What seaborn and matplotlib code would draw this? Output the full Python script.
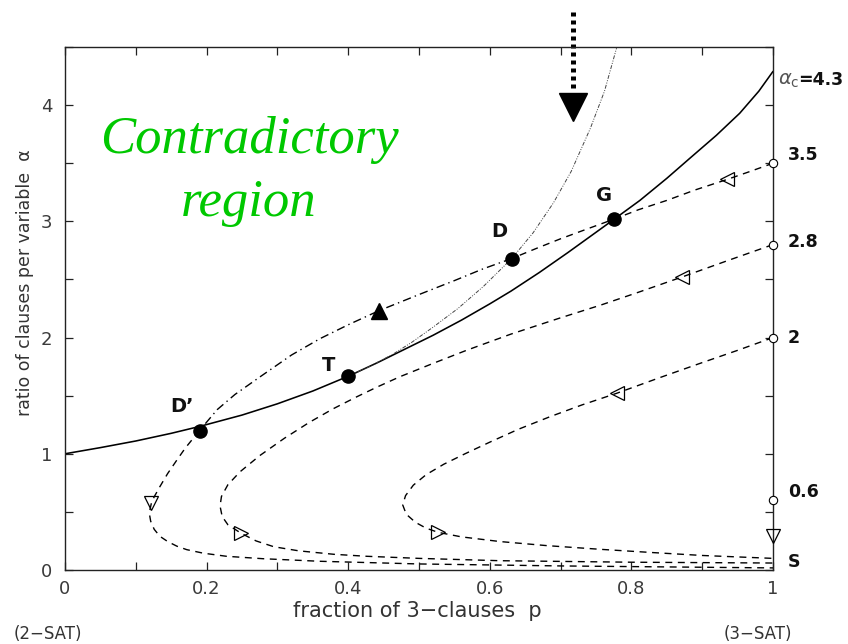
import matplotlib
matplotlib.use('Agg')
import matplotlib.pyplot as plt
import seaborn as sns
from matplotlib.ticker import MultipleLocator

sns.set_theme(style='ticks')
plt.rcParams['font.family'] = ['DejaVu Sans']

# threshold line alpha_c(p), solid
p_thr = [0, 0.05, 0.1, 0.15, 0.19, 0.25, 0.3, 0.35, 0.4, 0.44, 0.48, 0.52, 0.56, 0.6, 0.63,
         0.67, 0.71, 0.751, 0.776, 0.812, 0.85, 0.883, 0.92, 0.953, 0.98, 1.0]
a_thr = [1.0, 1.053, 1.11, 1.176, 1.235, 1.333, 1.43, 1.54, 1.667, 1.78, 1.9, 2.02, 2.15, 2.29, 2.4,
         2.56, 2.73, 2.91, 3.02, 3.18, 3.37, 3.545, 3.74, 3.93, 4.12, 4.29]

# thin dotted line from T through D
p_dot = [0.4, 0.43, 0.464, 0.49, 0.52, 0.555, 0.591, 0.631, 0.661, 0.69, 0.715, 0.742, 0.762, 0.779]
a_dot = [1.667, 1.75, 1.86, 1.96, 2.09, 2.25, 2.44, 2.68, 2.9, 3.16, 3.43, 3.8, 4.12, 4.49]

# trajectory starting at alpha0 = 3.5
p_35 = [1.0, 0.968, 0.935, 0.89, 0.85, 0.81, 0.776, 0.74, 0.7, 0.665, 0.631, 0.59, 0.55, 0.5,
        0.443, 0.4, 0.36, 0.32, 0.275, 0.24, 0.215, 0.19,
        0.17, 0.158, 0.145, 0.134, 0.126, 0.122, 0.119, 0.121, 0.126, 0.134, 0.145, 0.158,
        0.172, 0.195, 0.228, 0.28, 0.36, 0.5, 0.7, 1.0]
a_35 = [3.5, 3.43, 3.36, 3.27, 3.18, 3.1, 3.02, 2.94, 2.85, 2.765, 2.68, 2.59, 2.49, 2.37,
        2.23, 2.11, 1.99, 1.85, 1.66, 1.51, 1.38, 1.2,
        1.05, 0.946, 0.83, 0.717, 0.63, 0.575, 0.49, 0.42, 0.35, 0.29, 0.245, 0.205,
        0.175, 0.145, 0.118, 0.097, 0.075, 0.052, 0.035, 0.018]

# trajectory starting at alpha0 = 2.8
p_28 = [1.0, 0.935, 0.871, 0.81, 0.757, 0.7, 0.63, 0.567, 0.52, 0.473, 0.44, 0.412, 0.379,
        0.345, 0.31, 0.275, 0.247, 0.23, 0.221, 0.219, 0.222, 0.23, 0.249, 0.27, 0.295,
        0.33, 0.38, 0.426, 0.5, 0.614, 0.8, 1.0]
a_28 = [2.8, 2.66, 2.52, 2.39, 2.28, 2.17, 2.03, 1.89, 1.778, 1.663, 1.572, 1.49, 1.388,
        1.27, 1.134, 0.984, 0.844, 0.733, 0.633, 0.55, 0.46, 0.39, 0.315, 0.25, 0.2,
        0.165, 0.135, 0.118, 0.1, 0.08, 0.067, 0.06]

# trajectory starting at alpha0 = 2
p_20 = [1.0, 0.95, 0.897, 0.84, 0.779, 0.73, 0.685, 0.64, 0.6, 0.565, 0.535, 0.51, 0.492,
        0.481, 0.477, 0.482, 0.495, 0.51, 0.527, 0.56, 0.614, 0.68, 0.756, 0.83, 0.9, 1.0]
a_20 = [2.0, 1.89, 1.778, 1.655, 1.52, 1.42, 1.319, 1.21, 1.1, 1.0, 0.91, 0.82, 0.73,
        0.64, 0.56, 0.48, 0.41, 0.36, 0.324, 0.285, 0.245, 0.21, 0.178, 0.15, 0.125, 0.10]

# special points
pt_names = ["D\u2019", "T", "D", "G"]
pt_p = [0.19, 0.4, 0.631, 0.776]
pt_a = [1.2, 1.667, 2.68, 3.02]
name_p = [0.165, 0.372, 0.614, 0.762]
name_a = [1.405, 1.763, 2.91, 3.22]

# starting values on the p = 1 edge
start_a = [3.5, 2.8, 2.0, 0.6]
start_labels = ["3.5", "2.8", "2", "0.6", "S"]
start_label_a = [3.57, 2.82, 2.0, 0.67, 0.07]

# direction arrows along the trajectories
left_p, left_a = [0.935, 0.871, 0.779], [3.36, 2.52, 1.52]
right_p, right_a = [0.249, 0.527], [0.315, 0.324]
down_p, down_a = [0.122, 1.0], [0.575, 0.29]
up_p, up_a = [0.443], [2.23]

fig = plt.figure(figsize=(8.48, 6.44), dpi=100)
ax = fig.add_axes([65 / 848, 74 / 644, 708 / 848, 523 / 644])

dash = (0, (5, 4))
dashdot = (0, (6, 3, 1, 3))


def curve(px, py, ls, lw=1.0, color='black'):
    sns.lineplot(x=px, y=py, sort=False, estimator=None, ax=ax,
                 color=color, linewidth=lw, linestyle=ls)


curve(p_thr, a_thr, '-', lw=1.15)
curve(p_dot, a_dot, (0, (4, 1.5, 1, 1.5, 1, 1.5)), lw=0.7, color='#444444')
i_d = p_35.index(0.631)
i_dp = p_35.index(0.19)
curve(p_35[:i_d + 1], a_35[:i_d + 1], dash)
curve(p_35[i_d:i_dp + 1], a_35[i_d:i_dp + 1], dashdot)
curve(p_35[i_dp:], a_35[i_dp:], dash)
curve(p_28, a_28, dash)
curve(p_20, a_20, dash)

# markers
ax.plot(pt_p, pt_a, 'o', ms=9.5, color='black', ls='none', zorder=5)
ax.plot(up_p, up_a, '^', ms=12, color='black', ls='none', zorder=5)
mk = dict(ms=10, mfc='none', mec='black', mew=0.9, ls='none', zorder=5, clip_on=False)
ax.plot(left_p, left_a, '<', **mk)
ax.plot(right_p, right_a, '>', **mk)
ax.plot(down_p, down_a, 'v', **mk)
ax.plot([1.0] * len(start_a), start_a, 'o', ms=6, mfc='white', mec='black', mew=0.8,
        ls='none', zorder=6, clip_on=False)

for name, x, y in zip(pt_names, name_p, name_a):
    ax.text(x, y, name, fontsize=14, fontweight='bold', ha='center', va='center', color='#111111')

for lab, y in zip(start_labels, start_label_a):
    ax.text(1.021, y, lab, fontsize=12.5, fontweight='bold', ha='left', va='center', color='#111111')
ax.text(1.007, 4.215, r'$\alpha_{\rm c}$', fontsize=14, ha='left', va='center', color='#555555')
ax.text(1.036, 4.215, '=4.3', fontsize=12.5, fontweight='bold', ha='left', va='center', color='#111111')

# arrow pointing at the dynamical transition
ax.plot([0.718, 0.718], [4.80, 4.13], ls=(0, (0.8, 0.8)), lw=3.6, color='black', clip_on=False)
ax.plot(0.718, 3.98, marker='v', ms=20, color='black', clip_on=False, zorder=6)

ax.text(0.261, 3.585, 'Contradictory', fontsize=38, family='Liberation Serif', style='italic',
        color='#00C800', ha='center', va='baseline')
ax.text(0.259, 3.045, 'region', fontsize=38, family='Liberation Serif', style='italic',
        color='#00C800', ha='center', va='baseline')

ax.set_xlim(0, 1)
ax.set_ylim(0, 4.5)
ax.xaxis.set_minor_locator(MultipleLocator(0.1))
ax.yaxis.set_minor_locator(MultipleLocator(0.5))
ax.set_xticks([0, 0.2, 0.4, 0.6, 0.8, 1.0])
ax.set_xticklabels(['0', '0.2', '0.4', '0.6', '0.8', '1'])
ax.set_yticks([0, 1, 2, 3, 4])
ax.set_yticklabels(['0', '1', '2', '3', '4'])
ax.tick_params(which='both', direction='in', top=True, right=True, length=6, width=0.9,
               color='#222222', labelsize=13, labelcolor='#3a3a3a')
ax.tick_params(axis='x', pad=7)
ax.tick_params(axis='y', pad=9)
for s in ax.spines.values():
    s.set_linewidth(1.0)
    s.set_color('#222222')

ax.set_xlabel('fraction of 3\u2212clauses  p', fontsize=15, color='#333333')
ax.set_ylabel('ratio of clauses per variable  \u03b1', fontsize=12.5, color='#333333')
ax.xaxis.set_label_coords(0.497, -0.059)
ax.yaxis.set_label_coords(-0.044, 0.549)

fig.text(48 / 848, 1 - 634 / 644, '(2\u2212SAT)', fontsize=12, ha='center', va='center', color='#333333')
fig.text(758 / 848, 1 - 634 / 644, '(3\u2212SAT)', fontsize=12, ha='center', va='center', color='#333333')

fig.savefig('out.png', dpi=100)
